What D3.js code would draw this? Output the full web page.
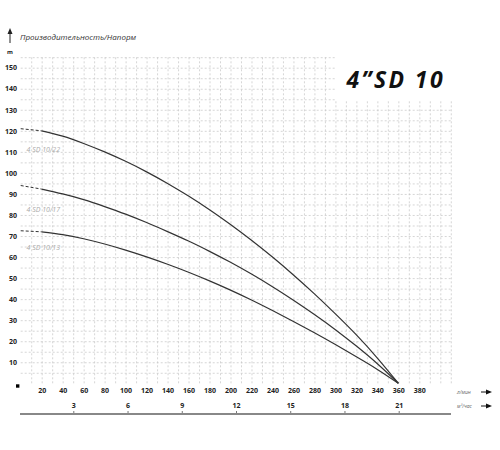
<!DOCTYPE html>
<html>
<head>
<meta charset="utf-8">
<script src="https://cdn.jsdelivr.net/npm/d3@7"></script>
<style>
  body { margin: 0; background: #fff; }
  svg { font-family: "Open Sans", sans-serif; }
  .grid .tick line { stroke: #c4c4c4; stroke-dasharray: 2,2; stroke-width: 0.7; }
</style>
</head>
<body>
<div id="chart"></div>
<script>
// flow in l/min
var flow = [0, 20, 40, 60, 80, 100, 120, 140, 160, 180, 200, 220, 240, 260, 280, 300, 320, 340, 360];
// head (m) per model
var head_22 = [121, 120, 117.5, 114, 110, 105.5, 100.5, 95, 89, 82.5, 75.5, 68, 60, 51.5, 42.5, 33, 23, 12, 0];
var head_17 = [94, 92.3, 90, 87.3, 84, 80.4, 76.4, 72.1, 67.6, 62.7, 57.5, 51.9, 45.9, 39.5, 32.7, 25.5, 17.7, 9.3, 0];
var head_11 = [72.5, 72, 70.7, 68.7, 66.2, 63.3, 60.1, 56.6, 52.8, 48.7, 44.3, 39.6, 34.6, 29.4, 24, 18.4, 12.6, 6.6, 0];
var models = ["4 SD 10/22", "4 SD 10/17", "4 SD 10/13"];
var xTicks = [20, 40, 60, 80, 100, 120, 140, 160, 180, 200, 220, 240, 260, 280, 300, 320, 340, 360, 380];
var yTicks = [10, 20, 30, 40, 50, 60, 70, 80, 90, 100, 110, 120, 130, 140, 150];
var m3Ticks = [3, 6, 9, 12, 15, 18, 21];

var svg = d3.select("#chart").append("svg")
    .attr("width", 500)
    .attr("height", 450);

var x = d3.scaleLinear().domain([0, 410]).range([20.7, 450.8]);
var y = d3.scaleLinear().domain([0, 150]).range([383.3, 67.7]);
var x2 = d3.scaleLinear().domain([3, 21]).range([73.3, 398.7]);

// grid
svg.append("g")
    .attr("class", "grid")
    .attr("transform", "translate(0," + y(0) + ")")
    .call(d3.axisBottom(x).tickValues(d3.range(10, 420, 10)).tickSize(-(y(0) - y(155))).tickFormat(""))
    .call(function (g) { g.select(".domain").remove(); });
svg.append("g")
    .attr("class", "grid")
    .attr("transform", "translate(" + x(0) + ",0)")
    .call(d3.axisLeft(y).tickValues(d3.range(5, 160, 5)).tickSize(-(x(410) - x(0))).tickFormat(""))
    .call(function (g) { g.select(".domain").remove(); });

// tick labels
function styleLabels(g) {
    g.select(".domain").remove();
    g.selectAll("text")
        .attr("fill", "#222")
        .attr("font-size", 7)
        .attr("font-weight", "bold")
        .attr("font-family", "Open Sans, sans-serif");
}
svg.append("g")
    .attr("transform", "translate(17,0)")
    .call(d3.axisLeft(y).tickValues(yTicks).tickSize(0).tickPadding(0))
    .call(styleLabels);

svg.append("g")
    .attr("transform", "translate(0,386)")
    .call(d3.axisBottom(x).tickValues(xTicks).tickSize(0).tickPadding(2))
    .call(styleLabels);

// black origin square
svg.append("rect")
    .attr("x", 16).attr("y", 384.3)
    .attr("width", 3.4).attr("height", 3.4)
    .attr("fill", "#000");

// m3/h axis
var gx2 = svg.append("g")
    .attr("transform", "translate(0,414)")
    .call(d3.axisTop(x2).tickValues(m3Ticks).tickSize(3).tickPadding(3))
    .call(styleLabels);
gx2.selectAll(".tick line").attr("stroke", "#777");
svg.append("line")
    .attr("x1", 20).attr("x2", 451)
    .attr("y1", 414).attr("y2", 414)
    .attr("stroke", "#888").attr("stroke-width", 2);

// curves
var line = d3.line()
    .x(function (d) { return x(d[0]); })
    .y(function (d) { return y(d[1]); })
    .curve(d3.curveNatural);

[head_22, head_17, head_11].forEach(function (h, i) {
    var pts = flow.map(function (q, j) { return [q, h[j]]; });
    svg.append("path")
        .attr("d", line(pts.slice(0, 2)))
        .attr("fill", "none")
        .attr("stroke", "#333")
        .attr("stroke-width", 1)
        .attr("stroke-dasharray", "3,2");
    svg.append("path")
        .attr("d", line(pts.slice(1)))
        .attr("fill", "none")
        .attr("stroke", "#333")
        .attr("stroke-width", 1.2);
    svg.append("text")
        .attr("x", 26.5)
        .attr("y", y(h[0]) + [23.5, 26.5, 19.5][i])
        .attr("font-size", 7)
        .attr("font-style", "italic")
        .attr("fill", "#aaa")
        .text(models[i]);
});

// title box
svg.append("rect")
    .attr("x", 335).attr("y", 57).attr("width", 117).attr("height", 44)
    .attr("fill", "#fff");
svg.append("text")
    .attr("x", 445).attr("y", 88)
    .attr("text-anchor", "end")
    .attr("font-size", 23)
    .attr("font-weight", "bold")
    .attr("font-style", "italic")
    .attr("letter-spacing", 2.4)
    .attr("fill", "#111")
    .text("4\u201DSD  10");

// top header
svg.append("line")
    .attr("x1", 10).attr("x2", 10).attr("y1", 43).attr("y2", 32)
    .attr("stroke", "#222").attr("stroke-width", 1);
svg.append("path")
    .attr("d", "M7.5,34 L10,28 L12.5,34 Z")
    .attr("fill", "#222");
svg.append("text")
    .attr("x", 20).attr("y", 40)
    .attr("font-size", 8)
    .attr("font-style", "italic")
    .attr("fill", "#333")
    .text("Производительность/Напорм");
svg.append("text")
    .attr("x", 10).attr("y", 54)
    .attr("text-anchor", "middle")
    .attr("font-size", 6)
    .attr("font-weight", "bold")
    .attr("fill", "#222")
    .text("m");

// units with arrows
[["л/мин", 392], ["м³/час", 406]].forEach(function (u) {
    svg.append("text")
        .attr("x", 457).attr("y", u[1] + 2)
        .attr("font-size", 5)
        .attr("font-style", "italic")
        .attr("fill", "#666")
        .text(u[0]);
    svg.append("line")
        .attr("x1", 481).attr("x2", 488)
        .attr("y1", u[1]).attr("y2", u[1])
        .attr("stroke", "#111").attr("stroke-width", 1);
    svg.append("path")
        .attr("d", "M486," + (u[1] - 2.5) + " L492," + u[1] + " L486," + (u[1] + 2.5) + " Z")
        .attr("fill", "#111");
});
</script>
</body>
</html>
